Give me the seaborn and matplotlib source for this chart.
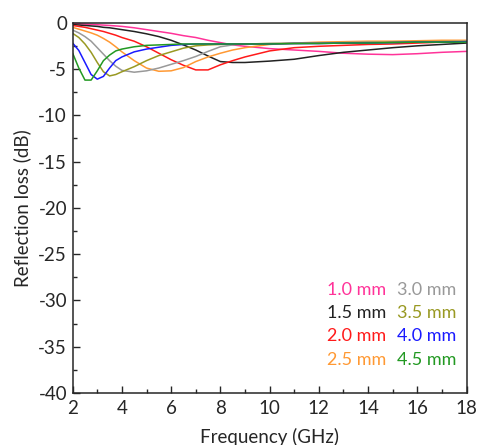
import pandas as pd
import seaborn as sns
import matplotlib.pyplot as plt
from matplotlib.ticker import MultipleLocator

# -------------------------------------------------------------------
# Data (reflection loss vs frequency)
# -------------------------------------------------------------------
freq = [2, 2.25, 2.5, 2.75, 3, 3.25, 3.5, 3.75, 4, 4.5, 5, 5.5, 6, 6.5,
        7, 7.5, 8, 8.5, 9, 10, 11, 12, 13, 14, 15, 16, 17, 18]

thickness = ["1.0 mm", "1.5 mm", "2.0 mm", "2.5 mm",
             "3.0 mm", "3.5 mm", "4.0 mm", "4.5 mm"]

rl_10 = [-0.1, -0.12, -0.15, -0.18, -0.22, -0.26, -0.3, -0.35, -0.4, -0.55,
         -0.75, -0.95, -1.15, -1.4, -1.6, -1.9, -2.15, -2.4, -2.55, -2.8,
         -2.95, -3.1, -3.3, -3.4, -3.45, -3.35, -3.2, -3.1]
rl_15 = [-0.2, -0.25, -0.3, -0.35, -0.4, -0.5, -0.55, -0.65, -0.75, -0.95,
         -1.2, -1.5, -1.9, -2.4, -2.95, -3.6, -4.2, -4.3, -4.3, -4.15,
         -3.95, -3.55, -3.2, -2.95, -2.7, -2.5, -2.35, -2.2]
rl_20 = [-0.3, -0.4, -0.5, -0.65, -0.8, -0.95, -1.15, -1.35, -1.6, -2.0,
         -2.6, -3.3, -4.0, -4.6, -5.1, -5.1, -4.55, -4.1, -3.7, -3.05,
         -2.7, -2.55, -2.45, -2.35, -2.3, -2.2, -2.1, -2.0]
rl_25 = [-0.5, -0.7, -0.9, -1.1, -1.35, -1.7, -2.1, -2.6, -3.15, -4.1,
         -4.9, -5.25, -5.2, -4.85, -4.2, -3.7, -3.3, -2.95, -2.7, -2.35,
         -2.2, -2.1, -2.05, -2.0, -2.0, -1.95, -1.9, -1.9]
rl_30 = [-0.8, -1.1, -1.5, -2.0, -2.7, -3.4, -4.1, -4.7, -5.15, -5.35,
         -5.2, -4.9, -4.5, -4.1, -3.65, -3.1, -2.6, -2.4, -2.3, -2.25,
         -2.2, -2.2, -2.15, -2.1, -2.1, -2.05, -2.05, -2.0]
rl_35 = [-1.15, -1.6, -2.3, -3.2, -4.3, -5.3, -5.75, -5.6, -5.3, -4.75,
         -4.1, -3.55, -3.15, -2.75, -2.5, -2.4, -2.35, -2.3, -2.3, -2.25,
         -2.25, -2.2, -2.2, -2.15, -2.1, -2.1, -2.05, -2.05]
rl_40 = [-2.2, -3.0, -4.3, -5.6, -6.1, -5.8, -4.9, -4.1, -3.7, -3.15,
         -2.85, -2.65, -2.45, -2.35, -2.3, -2.3, -2.3, -2.3, -2.3, -2.3,
         -2.25, -2.25, -2.2, -2.2, -2.15, -2.1, -2.1, -2.05]
rl_45 = [-3.3, -4.9, -6.2, -6.2, -5.2, -4.1, -3.5, -3.05, -2.85, -2.6,
         -2.45, -2.4, -2.35, -2.3, -2.3, -2.3, -2.3, -2.3, -2.3, -2.3,
         -2.25, -2.25, -2.2, -2.2, -2.15, -2.1, -2.1, -2.1]

colors = ["#ff3399", "#222222", "#ff1a1a", "#ff9933",
          "#999999", "#999922", "#1a1aff", "#229922"]

series = [rl_10, rl_15, rl_20, rl_25, rl_30, rl_35, rl_40, rl_45]

# long-form table for seaborn
df = pd.concat(
    [pd.DataFrame({"freq": freq, "rl": vals, "d": name})
     for name, vals in zip(thickness, series)],
    ignore_index=True
)

# -------------------------------------------------------------------
# Plot
# -------------------------------------------------------------------
sns.set_style("ticks")
plt.rcParams["font.family"] = ["Lato", "DejaVu Sans"]
plt.rcParams["axes.unicode_minus"] = False
plt.rcParams["xtick.direction"] = "in"
plt.rcParams["ytick.direction"] = "in"

fig = plt.figure(figsize=(4.78, 4.45), dpi=100)
ax = fig.add_axes([0.152, 0.117, 0.824, 0.832])

sns.lineplot(data=df, x="freq", y="rl", hue="d",
             palette=dict(zip(thickness, colors)),
             linewidth=1.1, legend=False, ax=ax, sort=False)

ax.set_xlim(2, 18)
ax.set_ylim(-40, 0)
ax.xaxis.set_major_locator(MultipleLocator(2))
ax.xaxis.set_minor_locator(MultipleLocator(1))
ax.yaxis.set_major_locator(MultipleLocator(5))
ax.yaxis.set_minor_locator(MultipleLocator(2.5))
ax.tick_params(which="major", length=5, width=1, labelsize=13.5)
ax.tick_params(axis="x", which="major", pad=5)
ax.tick_params(axis="y", which="major", pad=4)
ax.tick_params(which="minor", length=3, width=1)
for s in ax.spines.values():
    s.set_linewidth(1.1)
    s.set_visible(True)

ax.set_xlabel("Frequency (GHz)", fontsize=13.5, labelpad=8)
ax.set_ylabel("Reflection loss (dB)", fontsize=13.5, labelpad=5)

# two-column text legend in the lower right
col_x = [12.33, 15.17]
row_y = [-28.9, -31.4, -33.9, -36.4]
for i, (name, c) in enumerate(zip(thickness, colors)):
    ax.text(col_x[i // 4], row_y[i % 4], name, color=c, fontsize=13,
            va="center", ha="left")

plt.savefig("out.png", dpi=100)
plt.close()
